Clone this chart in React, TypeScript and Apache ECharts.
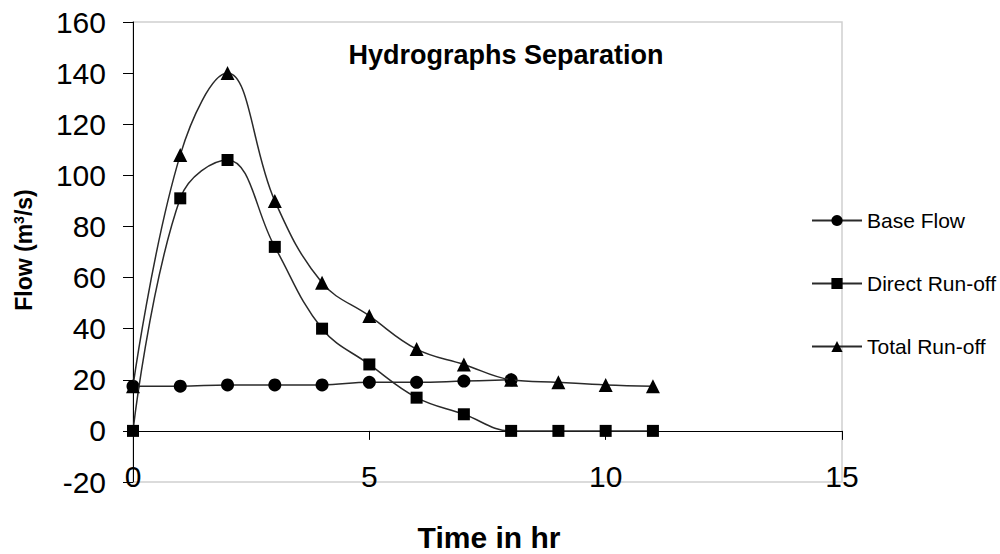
import React, { useEffect, useRef } from "react";
import * as echarts from "echarts";

const hours = [0, 1, 2, 3, 4, 5, 6, 7, 8, 9, 10, 11];
const baseFlow = [17.5, 17.5, 18, 18, 18, 19, 19, 19.5, 20];
const directRunoff = [0, 91, 106, 72, 40, 26, 13, 6.5, 0, 0, 0, 0];
const totalRunoff = [17.5, 108, 140, 90, 58, 45, 32, 26, 20, 19, 18, 17.5];

const xTicks = { min: 0, max: 15, interval: 5 };
const yTicks = { min: -20, max: 160, interval: 20 };

const font = "Liberation Sans, Arial, sans-serif";

export default function App() {
  const ref = useRef<HTMLDivElement>(null);
  useEffect(() => {
    if (!ref.current) return;
    const chart = echarts.init(ref.current, undefined, { renderer: "svg" });
    const pair = (ys: number[]) => ys.map((y, i) => [hours[i], y]);
    const lineStyle = { color: "#2a2a2a", width: 1.5 };
    const itemStyle = { color: "#000" };
    chart.setOption({
      animation: false,
      backgroundColor: "#fff",
      textStyle: { fontFamily: font },
      grid: {
        left: 133,
        top: 22,
        right: 158,
        bottom: 72,
        show: true,
        borderColor: "#d0d0d0",
        borderWidth: 1.5,
      },
      legend: {
        orient: "vertical",
        left: 806,
        top: 205,
        itemGap: 42,
        itemWidth: 50,
        itemHeight: 14,
        textStyle: { fontSize: 21, color: "#000", fontFamily: font },
        data: ["Base Flow", "Direct Run-off", "Total Run-off"],
      },
      xAxis: {
        type: "value",
        min: xTicks.min,
        max: xTicks.max,
        interval: xTicks.interval,
        axisLine: { onZero: true, lineStyle: { color: "#000", width: 1 } },
        axisTick: { show: true, length: 9, lineStyle: { color: "#000" } },
        axisLabel: { margin: -21, fontSize: 30, color: "#000", fontFamily: font },
        splitLine: { show: false },
      },
      yAxis: {
        type: "value",
        min: yTicks.min,
        max: yTicks.max,
        interval: yTicks.interval,
        axisLine: { show: true, onZero: false, lineStyle: { color: "#000", width: 1 } },
        axisTick: { show: true, length: 10, lineStyle: { color: "#000" } },
        axisLabel: { margin: 27, fontSize: 30, color: "#000", fontFamily: font },
        splitLine: { show: false },
      },
      graphic: [
        {
          type: "text",
          x: 506,
          y: 55,
          style: {
            text: "Hydrographs Separation",
            fontSize: 27,
            fontWeight: "bold",
            fontFamily: font,
            fill: "#000",
            textAlign: "center",
            textVerticalAlign: "middle",
          },
        },
        {
          type: "text",
          x: 24,
          y: 250,
          rotation: Math.PI / 2,
          style: {
            text: "{n|Flow (m}{s|3}{n|/s)}",
            rich: {
              n: { fontSize: 23, fontWeight: "bold", fontFamily: font, fill: "#000", color: "#000" },
              s: { fontSize: 14, fontWeight: "bold", fontFamily: font, fill: "#000", color: "#000", verticalAlign: "top", padding: [0, 0, 10, 0] },
            },
            textAlign: "center",
            textVerticalAlign: "middle",
          },
        },
        {
          type: "text",
          x: 489,
          y: 537,
          style: {
            text: "Time in hr",
            fontSize: 30,
            fontWeight: "bold",
            fontFamily: font,
            fill: "#000",
            textAlign: "center",
            textVerticalAlign: "middle",
          },
        },
      ],
      series: [
        {
          name: "Base Flow",
          type: "line",
          data: pair(baseFlow),
          smooth: 0.4,
          symbol: "circle",
          symbolSize: 13,
          lineStyle,
          itemStyle,
          z: 3,
        },
        {
          name: "Direct Run-off",
          type: "line",
          data: pair(directRunoff),
          smooth: 0.4,
          symbol: "rect",
          symbolSize: 12,
          lineStyle,
          itemStyle,
          z: 4,
        },
        {
          name: "Total Run-off",
          type: "line",
          data: pair(totalRunoff),
          smooth: 0.4,
          symbol: "triangle",
          symbolSize: 14,
          lineStyle,
          itemStyle,
          z: 5,
        },
      ],
    });
    return () => chart.dispose();
  }, []);
  return <div ref={ref} style={{ width: 1000, height: 554, position: "absolute", left: 0, top: 0 }} />;
}
